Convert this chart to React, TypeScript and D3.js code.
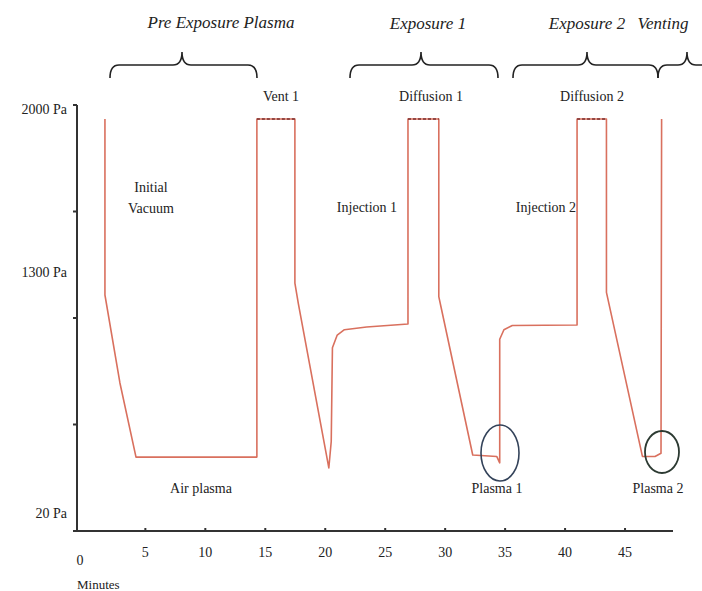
import * as d3 from "d3";

// pressure trace (minutes vs. level)
const minutes = [
  1.63, 1.63, 2.88, 4.22, 14.3, 14.3, 17.47, 17.47, 17.75, 20.3, 20.5, 20.6,
  21.0, 21.6, 23.45, 26.9, 26.9, 29.47, 29.47, 29.7, 32.3, 34.3, 34.55, 34.55,
  34.9, 35.6, 41.0, 41.0, 43.45, 43.45, 46.45, 47.5, 48.0, 48.05,
];
const pressure = [
  1934, 1108, 695, 347, 347, 1934, 1934, 1164, 1070, 296, 420, 860, 920, 945,
  958, 972, 1934, 1934, 1100, 1040, 357, 350, 320, 900, 945, 965, 967, 1934,
  1934, 1120, 350, 350, 365, 1934,
];

const xTicks = [0, 5, 10, 15, 20, 25, 30, 35, 40, 45];
const yTicks = [0, 500, 1000, 1500, 2000];
const yLabels = ["20 Pa", "1300 Pa", "2000 Pa"];
const yLabelValues = [75, 1207, 1975];

const phases = ["Pre Exposure Plasma", "Exposure 1", "Exposure 2", "Venting"];
const steps = [
  "Vent 1",
  "Diffusion 1",
  "Diffusion 2",
  "Injection 1",
  "Injection 2",
  "Air plasma",
  "Plasma 1",
  "Plasma 2",
];

const W = 702;
const H = 591;

// curly brace path between x1 and x2, tip at tx
const brace = (x1: number, x2: number, tx: number, y: number) => {
  const d = 13;
  const r = 9;
  return [
    `M${x1},${y + d}`,
    `Q${x1},${y} ${x1 + r},${y}`,
    `L${tx - r},${y}`,
    `Q${tx},${y} ${tx},${y - d}`,
    `Q${tx},${y} ${tx + r},${y}`,
    `L${x2 - r},${y}`,
    `Q${x2},${y} ${x2},${y + d}`,
  ].join(" ");
};

const font = "'Liberation Serif', 'Times New Roman', 'DejaVu Serif', serif";

export default function App() {
  const x = d3.scaleLinear().domain([-0.7, 49]).range([77, 673]);
  const y = d3.scaleLinear().domain([0, 2000]).range([531, 105]);

  const pts = minutes.map((m, i) => [m, pressure[i]] as [number, number]);
  const line = d3
    .line<[number, number]>()
    .x((d) => x(d[0]))
    .y((d) => y(d[1]));

  const top = d3.max(pressure) as number;
  const tops = pts
    .slice(0, -1)
    .map((p, i) => [p, pts[i + 1]])
    .filter(([a, b]) => a[1] === top && b[1] === top);

  const txt = { fontFamily: font, fontSize: 14, fill: "#222" };

  return (
    <svg
      width={W}
      height={H}
      style={{ position: "absolute", left: 0, top: 0, background: "#fff" }}
    >
      {/* phase titles */}
      <g style={{ fontFamily: font, fontStyle: "italic", fontSize: 17, fill: "#222" }}>
        <text x={221} y={28} textAnchor="middle">{phases[0]}</text>
        <text x={428} y={29} textAnchor="middle">{phases[1]}</text>
        <text x={587} y={29} textAnchor="middle">{phases[2]}</text>
        <text x={663} y={29} textAnchor="middle">{phases[3]}</text>
      </g>

      {/* braces */}
      <g fill="none" stroke="#222" strokeWidth={1.6}>
        <path d={brace(110, 257, 182, 65)} />
        <path d={brace(350, 498, 421, 65)} />
        <path d={brace(513, 658, 587, 65)} />
        <path d={brace(658, 716, 687, 65)} />
      </g>

      {/* axes */}
      <g stroke="#333" strokeWidth={2}>
        <line x1={x(-0.7)} x2={x(-0.7)} y1={y(2000)} y2={y(0)} />
        <line x1={x(-0.7)} x2={x(49)} y1={y(0)} y2={y(0)} />
        {yTicks.map((t) => (
          <line key={t} x1={x(-0.7) - 4} x2={x(-0.7)} y1={y(t)} y2={y(t)} />
        ))}
        {xTicks.slice(1).map((t) => (
          <line key={t} x1={x(t)} x2={x(t)} y1={y(0)} y2={y(0) - 3} />
        ))}
      </g>

      {/* y labels */}
      {yLabels.map((l, i) => (
        <text
          key={l}
          style={txt}
          x={67}
          y={y(yLabelValues[i])}
          textAnchor="end"
          dominantBaseline="middle"
        >
          {l}
        </text>
      ))}

      {/* x labels */}
      {xTicks.map((t) => (
        <text
          key={t}
          style={txt}
          x={t === 0 ? 80 : x(t)}
          y={t === 0 ? 565 : 557}
          textAnchor="middle"
        >
          {t}
        </text>
      ))}
      <text style={{ ...txt, fontSize: 13 }} x={77} y={589}>
        Minutes
      </text>

      {/* trace */}
      <path
        d={line(pts) ?? ""}
        fill="none"
        stroke="#d9705e"
        strokeWidth={1.6}
        strokeLinejoin="round"
      />
      {tops.map(([a, b], i) => (
        <line
          key={i}
          x1={x(a[0])}
          x2={x(b[0])}
          y1={y(a[1])}
          y2={y(b[1])}
          stroke="#7a2f2f"
          strokeWidth={1.4}
          strokeDasharray="3 2"
        />
      ))}

      {/* plasma circles */}
      <ellipse cx={500} cy={453} rx={19} ry={28} fill="none" stroke="#34435a" strokeWidth={1.6} />
      <ellipse cx={662} cy={452} rx={17} ry={21} fill="none" stroke="#2c3a32" strokeWidth={1.8} />

      {/* step labels */}
      <g style={txt} textAnchor="middle">
        <text x={281} y={101}>{steps[0]}</text>
        <text x={431} y={101}>{steps[1]}</text>
        <text x={592} y={101}>{steps[2]}</text>
        <text x={367} y={212}>{steps[3]}</text>
        <text x={546} y={212}>{steps[4]}</text>
        <text x={201} y={493}>{steps[5]}</text>
        <text x={497} y={493}>{steps[6]}</text>
        <text x={658} y={493}>{steps[7]}</text>
        <text x={151} y={192}>Initial</text>
        <text x={151} y={213}>Vacuum</text>
      </g>
    </svg>
  );
}
